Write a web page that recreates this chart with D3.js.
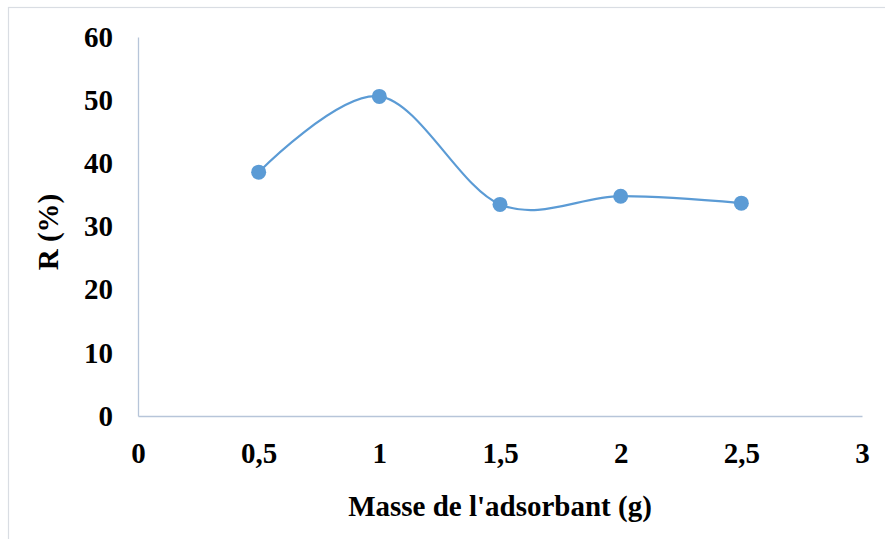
<!DOCTYPE html>
<html>
<head>
<meta charset="utf-8">
<script src="https://cdn.jsdelivr.net/npm/d3@7"></script>
<style>
  body { margin: 0; background: #fff; }
  text { font-family: "Liberation Serif", "Times New Roman", serif; font-weight: bold; fill: #000; }
</style>
</head>
<body>
<div id="chart"></div>
<script>
// data
const masse = [0.5, 1, 1.5, 2, 2.5];
const rendement = [38.6, 50.6, 33.5, 34.8, 33.7];
const xTicks = [0, 0.5, 1, 1.5, 2, 2.5, 3];
const yTicks = [0, 10, 20, 30, 40, 50, 60];

const width = 885, height = 539;
const margin = { top: 37, right: 23, bottom: 123, left: 138 };

const svg = d3.select('#chart').append('svg')
  .attr('width', width)
  .attr('height', height);

// light outer frame
svg.append('rect')
  .attr('x', 8.5).attr('y', 7.5)
  .attr('width', 890).attr('height', 545)
  .attr('fill', 'none')
  .attr('stroke', '#d9dde3')
  .attr('stroke-width', 1.2);

const x = d3.scaleLinear().domain([0, 3]).range([margin.left, width - margin.right]);
const y = d3.scaleLinear().domain([0, 60]).range([height - margin.bottom, margin.top]);

const fmt = d => String(d).replace('.', ',');

// x axis
svg.append('g')
  .attr('transform', `translate(0,${y(0)})`)
  .call(d3.axisBottom(x).tickValues(xTicks).tickFormat(fmt).tickSize(0).tickPadding(26))
  .call(g => g.select('.domain').attr('stroke', '#b7c5d9').attr('stroke-width', 1.3))
  .call(g => g.selectAll('text').attr('font-size', 29).attr('fill', '#000')
    .style('font-family', '"Liberation Serif", serif').style('font-weight', 'bold'));

// y axis
svg.append('g')
  .attr('transform', `translate(${x(0)},0)`)
  .call(d3.axisLeft(y).tickValues(yTicks).tickSize(0).tickPadding(25))
  .call(g => g.select('.domain').attr('stroke', '#b7c5d9').attr('stroke-width', 1.3))
  .call(g => g.selectAll('text').attr('font-size', 29).attr('fill', '#000')
    .style('font-family', '"Liberation Serif", serif').style('font-weight', 'bold'));

// smoothed line like the spreadsheet one
const line = d3.line()
  .x((d, i) => x(masse[i]))
  .y(d => y(d))
  .curve(d3.curveCardinal.tension(0));

svg.append('path')
  .datum(rendement)
  .attr('d', line)
  .attr('fill', 'none')
  .attr('stroke', '#5b9bd5')
  .attr('stroke-width', 2.2);

svg.append('g')
  .selectAll('circle')
  .data(rendement)
  .join('circle')
    .attr('cx', (d, i) => x(masse[i]))
    .attr('cy', d => y(d))
    .attr('r', 7.5)
    .attr('fill', '#5b9bd5');

// axis titles
svg.append('text')
  .attr('x', 500).attr('y', 516)
  .attr('text-anchor', 'middle')
  .attr('font-size', 29)
  .text("Masse de l'adsorbant (g)");

svg.append('text')
  .attr('transform', 'translate(58,232) rotate(-90)')
  .attr('text-anchor', 'middle')
  .attr('font-size', 29)
  .text('R (%)');
</script>
</body>
</html>
